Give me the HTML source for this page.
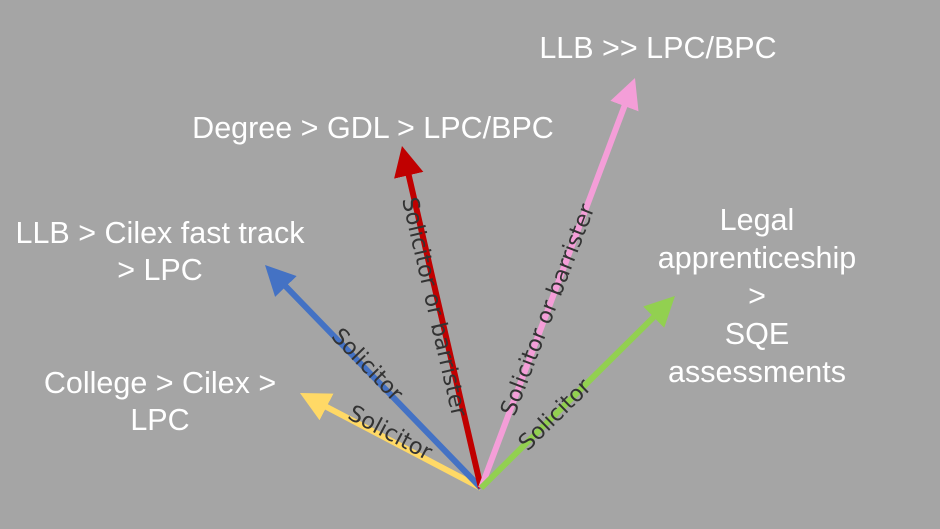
<!DOCTYPE html>
<html><head><meta charset="utf-8"><style>
html,body{margin:0;padding:0;background:#a5a5a5;}
svg{display:block}
.t{font-family:"Liberation Sans",Arial,sans-serif;font-size:30.5px;fill:#fff}
.l{font-family:"DejaVu Sans","Liberation Sans",sans-serif;font-size:22.5px;fill:#333}
</style></head><body>
<svg width="940" height="529" viewBox="0 0 940 529" xmlns="http://www.w3.org/2000/svg">
<rect width="940" height="529" fill="#a5a5a5"/>
<defs>
<marker id="my" markerUnits="userSpaceOnUse" markerWidth="32" markerHeight="30" refX="5" refY="15" orient="auto"><path d="M0,0 L30,15 L0,30 Z" fill="#ffd966"/></marker>
<marker id="mb" markerUnits="userSpaceOnUse" markerWidth="32" markerHeight="30" refX="5" refY="15" orient="auto"><path d="M0,0 L30,15 L0,30 Z" fill="#4472c4"/></marker>
<marker id="mr" markerUnits="userSpaceOnUse" markerWidth="32" markerHeight="30" refX="5" refY="15" orient="auto"><path d="M0,0 L30,15 L0,30 Z" fill="#c00000"/></marker>
<marker id="mp" markerUnits="userSpaceOnUse" markerWidth="32" markerHeight="30" refX="5" refY="15" orient="auto"><path d="M0,0 L30,15 L0,30 Z" fill="#f49ed8"/></marker>
<marker id="mg" markerUnits="userSpaceOnUse" markerWidth="32" markerHeight="30" refX="5" refY="15" orient="auto"><path d="M0,0 L30,15 L0,30 Z" fill="#92d050"/></marker>
</defs>
<g stroke-width="6" fill="none">
<line x1="481" y1="488" x2="322.1" y2="404.6" stroke="#ffd966" marker-end="url(#my)"/>
<line x1="481" y1="488" x2="282.4" y2="282.9" stroke="#4472c4" marker-end="url(#mb)"/>
<line x1="481" y1="488" x2="407.6" y2="170.4" stroke="#c00000" marker-end="url(#mr)"/>
<line x1="481" y1="488" x2="626.2" y2="101.4" stroke="#f49ed8" marker-end="url(#mp)"/>
<line x1="481" y1="488" x2="657.2" y2="313.6" stroke="#92d050" marker-end="url(#mg)"/>
</g>
<text class="l" text-anchor="middle" dominant-baseline="central" transform="translate(390,433) rotate(28)">Solicitor</text>
<text class="l" text-anchor="middle" dominant-baseline="central" transform="translate(367,365) rotate(46)">Solicitor</text>
<text class="l" text-anchor="middle" dominant-baseline="central" transform="translate(434,307) rotate(77)">Solicitor or barrister</text>
<text class="l" text-anchor="middle" dominant-baseline="central" transform="translate(548,310) rotate(-69)">Solicitor or barrister</text>
<text class="l" text-anchor="middle" dominant-baseline="central" transform="translate(555,415) rotate(-44.5)">Solicitor</text>
<text class="t" x="658" y="58" text-anchor="middle">LLB &gt;&gt; LPC/BPC</text>
<text class="t" x="373" y="138" text-anchor="middle">Degree &gt; GDL &gt; LPC/BPC</text>
<text class="t" x="160" y="243" text-anchor="middle">LLB &gt; Cilex fast track</text>
<text class="t" x="160" y="280" text-anchor="middle">&gt; LPC</text>
<text class="t" x="160" y="393" text-anchor="middle">College &gt; Cilex &gt;</text>
<text class="t" x="160" y="430" text-anchor="middle">LPC</text>
<text class="t" x="757" y="230" text-anchor="middle">Legal</text>
<text class="t" x="757" y="268" text-anchor="middle">apprenticeship</text>
<text class="t" x="757" y="306" text-anchor="middle">&gt;</text>
<text class="t" x="757" y="344" text-anchor="middle">SQE</text>
<text class="t" x="757" y="382" text-anchor="middle">assessments</text>
</svg>
</body></html>
